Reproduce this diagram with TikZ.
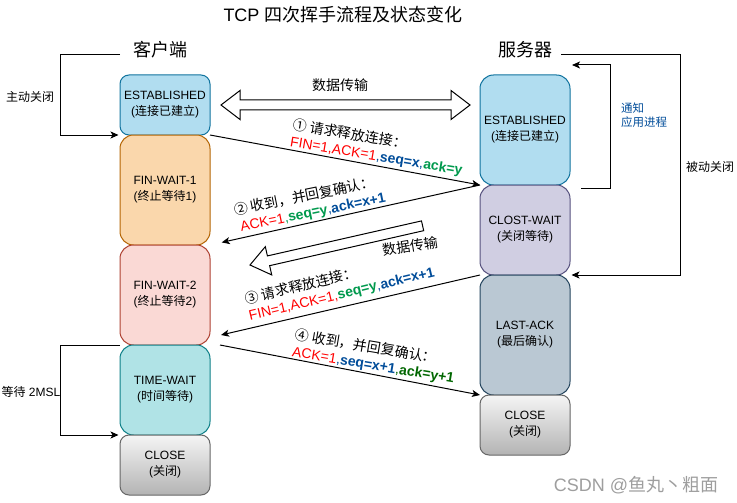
\documentclass[tikz,border=0pt]{standalone}
\usepackage{fontspec}
\setmainfont{Liberation Sans}
\newfontfamily\cjk{Noto Sans CJK SC}
\usetikzlibrary{arrows.meta}
\newcommand\zh[1]{{\cjk #1}}
\definecolor{estF}{HTML}{B1DDF0}\definecolor{estD}{HTML}{10739E}
\definecolor{fw1F}{HTML}{FAD7AC}\definecolor{fw1D}{HTML}{B46504}
\definecolor{fw2F}{HTML}{FAD9D5}\definecolor{fw2D}{HTML}{AE4132}
\definecolor{twF}{HTML}{B0E3E6}\definecolor{twD}{HTML}{0E8088}
\definecolor{cwF}{HTML}{D0CEE2}\definecolor{cwD}{HTML}{56517E}
\definecolor{laF}{HTML}{BAC8D3}\definecolor{laD}{HTML}{23445D}
\definecolor{clT}{HTML}{F5F5F5}\definecolor{clB}{HTML}{B3B3B3}\definecolor{clD}{HTML}{666666}
\definecolor{redT}{HTML}{FF0000}
\definecolor{blueT}{HTML}{004C99}
\definecolor{greenT}{HTML}{00994D}
\definecolor{dgreenT}{HTML}{006600}
\definecolor{blueN}{HTML}{004C99}
\begin{document}
\begin{tikzpicture}[x=1pt,y=-1pt,
  box/.style={draw, line width=1pt, minimum width=90pt, inner sep=0pt, outer sep=0pt,
    align=center, font=\fontsize{12}{16}\selectfont},
  rs/.style={rounded corners=9pt},
  rl/.style={rounded corners=13.5pt},
  conn/.style={line width=1pt, -{Stealth[length=8pt,width=7pt,inset=2pt]}},
  lbl/.style={inner sep=0pt, font=\fontsize{14}{17}\selectfont, anchor=west, align=left},
  small/.style={font=\fontsize{12}{14}\selectfont},
  big/.style={font=\fontsize{18}{20}\selectfont},
  fat/.style={line width=1pt, draw=black, fill=white, line join=miter}]
\useasboundingbox (0,0) rectangle (737,503);

% titles
\node[big] (title) at (343,15) {TCP \zh{四次挥手流程及状态变化}};
\node[big] (cl) at (160,50) {\zh{客户端}};
\node[big] (sv) at (525,50) {\zh{服务器}};

% client states
\node[box, rs, fill=estF, draw=estD, minimum height=60pt] (cE) at (165,105) {ESTABLISHED\\(\zh{连接已建立})};
\node[box, rl, fill=fw1F, draw=fw1D, minimum height=110pt] (cF1) at (165,190) {FIN-WAIT-1\\(\zh{终止等待}1)};
\node[box, rl, fill=fw2F, draw=fw2D, minimum height=100pt] (cF2) at (165,295) {FIN-WAIT-2\\(\zh{终止等待}2)};
\node[box, rl, fill=twF, draw=twD, minimum height=90pt] (cT) at (165,390) {TIME-WAIT\\(\zh{时间等待})};
\node[box, rs, top color=clT, bottom color=clB, draw=clD, minimum height=60pt] (cC) at (165,465) {CLOSE\\(\zh{关闭})};

% server states
\node[box, rl, fill=estF, draw=estD, minimum height=110pt] (sE) at (525,130) {ESTABLISHED\\(\zh{连接已建立})};
\node[box, rl, fill=cwF, draw=cwD, minimum height=90pt] (sW) at (525,230) {CLOST-WAIT\\(\zh{关闭等待})};
\node[box, rl, fill=laF, draw=laD, minimum height=120pt] (sL) at (525,335) {LAST-ACK\\(\zh{最后确认})};
\node[box, rs, top color=clT, bottom color=clB, draw=clD, minimum height=60pt] (sC) at (525,425) {CLOSE\\(\zh{关闭})};

% data transfer arrows
\draw[fat] (221,105) -- (240,90.5) -- (240,100) -- (451,100) -- (451,90.5) -- (470,105)
  -- (451,119.5) -- (451,110) -- (240,110) -- (240,119.5) -- cycle;
\node[lbl, anchor=center] (dt1) at (340,85) {\zh{数据传输}};
\begin{scope}[shift={(250,265)}, rotate=12.8]
\draw[fat] (0,0) -- (19,-14.5) -- (19,-5) -- (177,-5) -- (177,5) -- (19,5) -- (19,14.5) -- cycle;
\end{scope}
\node[lbl, anchor=center, rotate=9] (dt2) at (410,246) {\zh{数据传输}};

% side connectors
\coordinate (aS) at (120,55);
\draw[conn, shorten >=1.5pt] (aS) -- ++(-60,0) |- (cF1.north west);
\node[small] (t1) at (30,97) {\zh{主动关闭}};

\draw[conn, shorten >=1.5pt] (cT.north west) -- ++(-60,0) |- (cC.north west);
\node[small] (t2) at (31,392) {\zh{等待} 2MSL};

\coordinate (nS) at (581,188);
\coordinate (nE) at (572,65);
\draw[conn] (nS) -- ++(29,0) |- (nE);
\node[anchor=west, align=left, text=blueN, inner sep=0pt, font=\fontsize{11.5}{14}\selectfont] (nt) at (621,115) {\zh{通知}\\\zh{应用进程}};

\coordinate (pS) at (561,55);
\draw[conn, shorten >=1.5pt] (pS) -- ++(119,0) |- (sL.north east);
\node[small] (pc) at (710,167) {\zh{被动关闭}};

% messages
\coordinate (m3e) at (221,335);
\coordinate (m4s) at (220,345);
\draw[conn] (cE.south east) -- (sW.north west);
\draw[conn, shorten >=12pt] (sW.north west) -- (cF2.north east);
\draw[conn] (sL.north west) -- (m3e);
\draw[conn] (m4s) -- (sC.north west);

\node[lbl, rotate=-9.5] (l1) at (291.6,133.4) {\zh{① 请求释放连接：}\\\textcolor{redT}{FIN=1,ACK=1}\textcolor{blueT}{,\textbf{seq=x},}\textcolor{greenT}{\textbf{ack=y}}};

\node[lbl, rotate=11.5] (l2) at (235.7,219.4) {\zh{② 收到，并回复确认：}\\\hspace*{3pt}\textcolor{redT}{ACK=1}\textcolor{greenT}{,\textbf{seq=y}}\textcolor{blueT}{,\textbf{ack=x+1}}};

\node[lbl, rotate=13.5] (l3) at (247,308.2) {\zh{③ 请求释放连接：}\\\textcolor{redT}{FIN=1,ACK=1,}\textcolor{greenT}{\textbf{seq=y}}\textcolor{blueT}{,\textbf{ack=x+1}}};

\node[lbl, rotate=-9.5] (l4) at (293.6,343.4) {\zh{④ 收到，并回复确认：}\\\textcolor{redT}{ACK=1}\textcolor{blueT}{,\textbf{seq=x+1}}\textcolor{dgreenT}{,\textbf{ack=y+1}}};

% watermark
\node[text=black!38, font=\fontsize{18}{20}\selectfont] (wm) at (636,485) {CSDN @\zh{鱼丸丶粗面}};
\end{tikzpicture}
\end{document}
